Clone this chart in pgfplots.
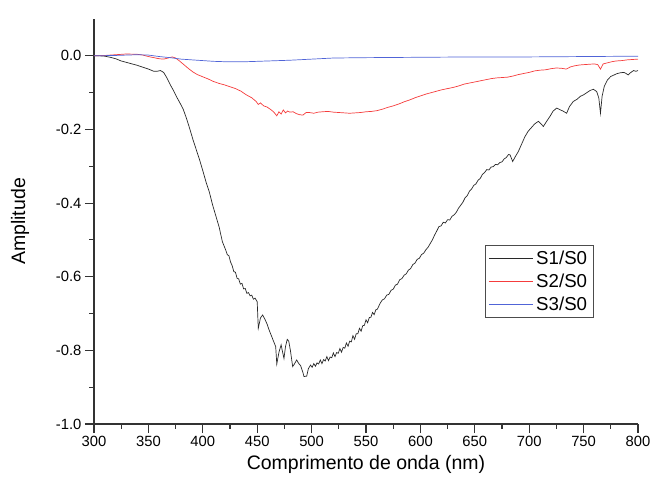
\documentclass[border=0pt]{standalone}
\usepackage{pgfplots}
\pgfplotsset{compat=1.18}
\usepackage{fontspec}
\setmainfont{Liberation Sans}
\definecolor{sred}{RGB}{245,60,60}
\definecolor{sblue}{RGB}{80,100,215}
\definecolor{sblack}{RGB}{40,40,40}
\begin{document}
\begin{tikzpicture}
\begin{axis}[
  name=ax,
  scale only axis,
  width=544pt, height=405pt,
  xmin=300, xmax=800, ymin=-1.0, ymax=0.1,
  axis x line=bottom, axis y line=left,
  axis line style={-, line width=1.2pt, black!80},
  xtick={300,350,...,800},
  ytick={-1.0,-0.8,-0.6,-0.4,-0.2,0.0},
  minor x tick num=1, minor y tick num=1,
  tick align=outside,
  major tick length=9pt, minor tick length=4.5pt,
  every tick/.style={line width=1.1pt, black!80},
  /pgf/number format/assume math mode=true,
  yticklabel style={/pgf/number format/.cd, fixed, fixed zerofill, precision=1},
  xticklabel style={/pgf/number format/.cd, fixed, precision=0},
  tick label style={font=\fontsize{14.8}{16}\selectfont},
  xlabel={Comprimento de onda (nm)},
  ylabel={Amplitude},
  label style={font=\fontsize{19.5}{22}\selectfont},
  xlabel style={at={(axis description cs:0.5,-0.101)}, anchor=center},
  ylabel style={at={(axis description cs:-0.136,0.5)}, anchor=center, rotate=0},
  legend style={at={(axis description cs:0.919,0.442)}, anchor=north east,
    draw=black!70, line width=0.6pt, font=\fontsize{18.7}{20}\selectfont,
    inner xsep=3.5pt, inner ysep=4pt, row sep=5pt,
    nodes={inner xsep=3pt, inner ysep=1.5pt}},
  legend cell align=left,
  legend image code/.code={\draw[#1] (0pt,0pt) -- (44pt,0pt);},
]
\addplot[sblack, line width=0.7pt] coordinates {
(300,0) (305,0.000) (310,-0.001) (315,-0.004) (320,-0.008) (325,-0.014) (330,-0.018)
(335,-0.022) (340,-0.026) (345,-0.031) (350,-0.036) (355,-0.042) (358,-0.042)
(361,-0.040) (364,-0.045) (367,-0.060) (370,-0.078) (373,-0.094) (376,-0.112)
(379,-0.128) (382,-0.145) (385,-0.170) (388,-0.198) (391,-0.228) (394,-0.255)
(397,-0.282) (400,-0.312) (403,-0.343) (406,-0.370) (409,-0.405) (412,-0.435)
(415,-0.465) (418,-0.505) (421,-0.527) (422.5,-0.540) (424,-0.543) (425.5,-0.560)
(427,-0.570) (428.5,-0.586) (430,-0.588) (431.5,-0.604) (433,-0.606) (434.5,-0.620)
(436,-0.618) (437.5,-0.633) (439,-0.632) (440.5,-0.645) (442,-0.643) (443.5,-0.652)
(445,-0.650) (446.5,-0.661) (448,-0.658) (450,-0.668)
(451,-0.740) (453,-0.712) (455,-0.704) (457,-0.715) (459,-0.728)
(461,-0.745) (463,-0.760) (465,-0.775) (467,-0.790) (468,-0.837) (470,-0.805)
(472,-0.785) (473,-0.800) (474.6,-0.822) (476,-0.790) (477.6,-0.770) (479,-0.775)
(480.5,-0.800) (482.6,-0.844) (484,-0.838) (486.3,-0.826) (488,-0.835) (490,-0.842)
(492,-0.860) (493,-0.871) (495.5,-0.870) (497,-0.850) (499,-0.840)
(500.5,-0.846) (502,-0.836) (503.5,-0.843) (505,-0.834) (506.5,-0.837) (508,-0.826)
(509.5,-0.836) (511,-0.825) (512.5,-0.829) (514,-0.817) (515.5,-0.828) (517,-0.818)
(518.5,-0.820) (520,-0.807) (521.5,-0.817) (523,-0.806) (524.5,-0.808) (526,-0.795)
(527.5,-0.805) (529,-0.792) (530.5,-0.794) (532,-0.780) (533.5,-0.789) (535,-0.775)
(536.5,-0.777) (538,-0.760) (539.5,-0.770) (541,-0.755) (542.5,-0.755) (544,-0.740)
(545.5,-0.748) (547,-0.733) (548.5,-0.732) (550,-0.717) (551.5,-0.725) (553,-0.711)
(554.5,-0.710) (556,-0.697) (557.5,-0.703) (559,-0.690) (560.5,-0.688)
(563,-0.672) (565,-0.663) (567,-0.660) (569,-0.650) (571,-0.648) (573,-0.637)
(575,-0.634) (577,-0.623) (579,-0.620) (581,-0.608) (583,-0.605) (585,-0.596)
(587,-0.592) (589,-0.582) (591,-0.578) (593,-0.567) (595,-0.563) (597,-0.553)
(599,-0.550) (601,-0.540) (603,-0.536) (605,-0.527) (607,-0.520) (609,-0.510)
(611,-0.500) (613,-0.487) (615,-0.476) (617,-0.464) (619,-0.462) (621,-0.452)
(623,-0.454) (625,-0.445) (627,-0.446) (629,-0.436) (631,-0.432) (633,-0.425)
(635,-0.414) (637,-0.406) (639,-0.398) (641,-0.386) (643,-0.380) (645,-0.368)
(647,-0.362) (649,-0.352) (651,-0.348) (653,-0.338) (655,-0.333) (657,-0.322)
(659,-0.317) (661,-0.309) (663,-0.310) (665,-0.302) (667,-0.301) (669,-0.295)
(671,-0.296) (673,-0.290) (675,-0.288) (677,-0.280) (679,-0.276) (681,-0.268)
(682.4,-0.269) (684.8,-0.287) (687,-0.275) (690,-0.260) (693,-0.240) (696,-0.220)
(699,-0.205) (702,-0.195) (705,-0.185) (708.4,-0.178) (711,-0.185) (713,-0.192)
(716,-0.178) (719,-0.165) (722,-0.150) (725.3,-0.142) (728,-0.146) (731,-0.150)
(734.4,-0.156) (737,-0.138) (740.5,-0.124) (744,-0.118) (747,-0.110) (750,-0.106)
(753,-0.100) (756,-0.094) (759,-0.091) (762,-0.097) (764,-0.115) (765.5,-0.156)
(767,-0.110) (769,-0.083) (772,-0.065) (775,-0.056) (778,-0.052) (781,-0.048)
(784,-0.046) (787,-0.045) (789,-0.048) (791,-0.052) (793,-0.046) (796,-0.040)
(798,-0.042) (800,-0.040)
};
\addlegendentry{S1/S0}
\addplot[sred, line width=0.7pt] coordinates {
(300,0) (310,0.001) (320,0.003) (330,0.005) (340,0.004) (345,0.002) (350,-0.002)
(355,-0.005) (360,-0.008) (364,-0.009) (368,-0.006) (372,-0.003) (375,-0.006)
(379,-0.015) (383,-0.025) (387,-0.035) (391,-0.044) (395,-0.051) (400,-0.057)
(405,-0.063) (410,-0.070) (415,-0.075) (420,-0.079) (425,-0.084) (430,-0.089)
(435,-0.096) (440,-0.106) (445,-0.114) (449,-0.124) (451,-0.132) (453,-0.128)
(456,-0.136) (459,-0.139) (462,-0.145) (465,-0.152) (468,-0.163) (470,-0.152)
(472,-0.158) (474,-0.147) (476,-0.155) (478,-0.150) (480,-0.153) (483,-0.152)
(486,-0.157) (489,-0.160) (492,-0.161) (495,-0.154) (498,-0.154) (502,-0.156)
(506,-0.153) (510,-0.152) (515,-0.151) (520,-0.153) (525,-0.154) (530,-0.155)
(535,-0.156) (540,-0.155) (545,-0.154) (550,-0.152) (555,-0.151) (560,-0.149)
(565,-0.145) (570,-0.140) (575,-0.136) (580,-0.131) (585,-0.125) (590,-0.120)
(595,-0.114) (600,-0.109) (605,-0.104) (610,-0.100) (615,-0.096) (620,-0.092)
(625,-0.089) (630,-0.086) (635,-0.082) (640,-0.077) (645,-0.074) (650,-0.071)
(655,-0.068) (660,-0.065) (665,-0.062) (670,-0.060) (675,-0.059) (680,-0.058)
(685,-0.055) (690,-0.051) (695,-0.048) (700,-0.045) (705,-0.041) (710,-0.039)
(715,-0.038) (720,-0.035) (725,-0.033) (730,-0.034) (734,-0.036) (738,-0.030)
(742,-0.027) (746,-0.025) (750,-0.024) (755,-0.023) (760,-0.022) (763,-0.024)
(765.5,-0.036) (768,-0.022) (772,-0.019) (776,-0.016) (780,-0.014) (785,-0.013)
(790,-0.011) (795,-0.010) (800,-0.009)
};
\addlegendentry{S2/S0}
\addplot[sblue, line width=0.7pt] coordinates {
(300,0) (320,0.001) (340,0.003) (350,0.002) (360,-0.002) (370,-0.005) (380,-0.009)
(390,-0.011) (400,-0.013) (410,-0.015) (420,-0.016) (430,-0.016) (440,-0.016)
(450,-0.015) (460,-0.014) (470,-0.013) (480,-0.012) (500,-0.009) (520,-0.006)
(550,-0.005) (600,-0.004) (650,-0.003) (700,-0.003) (750,-0.002) (800,-0.001)
};
\addlegendentry{S3/S0}
\end{axis}
\pgfresetboundingbox
\path ([shift={(-94pt,-65pt)}]ax.south west) rectangle ([shift={(17pt,19pt)}]ax.north east);
\end{tikzpicture}
\end{document}
